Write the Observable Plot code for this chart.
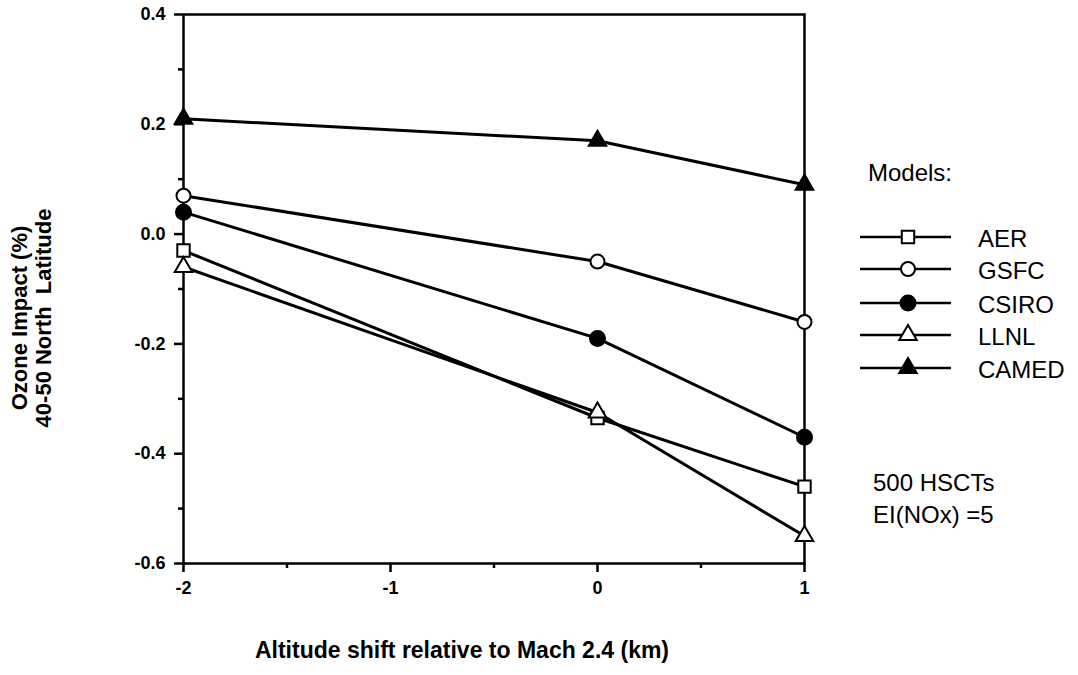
<!DOCTYPE html>
<html>
<head>
<meta charset="utf-8">
<script src="https://cdn.jsdelivr.net/npm/d3@7"></script>
<script src="https://cdn.jsdelivr.net/npm/@observablehq/plot@0.6"></script>
<style>
  html, body { margin: 0; padding: 0; background: #fff; }
  #chart svg { display: block; }
</style>
</head>
<body>
<div id="chart"></div>
<script>
// ---- data ----
const xs = [-2, 0, 1];
const models = ["AER", "GSFC", "CSIRO", "LLNL", "CAMED"];
const aer   = [-0.03, -0.335, -0.46];
const gsfc  = [0.07, -0.05, -0.16];
const csiro = [0.04, -0.19, -0.37];
const llnl  = [-0.06, -0.325, -0.55];
const camed = [0.21, 0.17, 0.09];
const yTicks = [0.4, 0.2, 0.0, -0.2, -0.4, -0.6];
const yMinorTicks = [0.3, 0.1, -0.1, -0.3, -0.5];
const xTicks = [-2, -1, 0, 1];
const xMinorTicks = [-1.5, -0.5, 0.5];
const xTitle = "Altitude shift relative to Mach 2.4 (km)";
const yTitle = ["Ozone Impact (%)", "40-50 North  Latitude"];
const legendTitle = "Models:";
const noteLines = ["500 HSCTs", "EI(NOx) =5"];

const series = [aer, gsfc, csiro, llnl, camed];
const rows = models.flatMap((m, i) => series[i].map((v, j) => ({model: m, x: xs[j], y: v})));

// ---- styles ----
const style = {
  AER:   {symbol: "square",   fill: "white", r: 7},
  GSFC:  {symbol: "circle",   fill: "white", r: 7},
  CSIRO: {symbol: "circle",   fill: "black", r: 7.5},
  LLNL:  {symbol: "triangle", fill: "white", r: 6.5},
  CAMED: {symbol: "triangle", fill: "black", r: 6.5}
};
const FONT = "'Liberation Sans', Arial, Helvetica, sans-serif";

const W = 1078, H = 675;
const chart = Plot.plot({
  width: W,
  height: H,
  marginLeft: 183,
  marginRight: W - 804,
  marginTop: 14,
  marginBottom: H - 563,
  style: {fontFamily: FONT, fontSize: "18px", background: "white", color: "black"},
  x: {domain: [-2, 1]},
  y: {domain: [-0.6, 0.4]},
  marks: [
    Plot.axisY({ticks: yTicks, tickSize: 9, tickPadding: 9, tickFormat: d => d.toFixed(1),
      fontSize: 18, fontWeight: "bold", strokeWidth: 2.5, label: null}),
    Plot.axisY({ticks: yMinorTicks, tickSize: 5, tickFormat: () => "", strokeWidth: 2.5, label: null}),
    Plot.axisX({ticks: xTicks, tickSize: 9, tickPadding: 9, tickFormat: d => String(d),
      fontSize: 18, fontWeight: "bold", strokeWidth: 2.5, label: null}),
    Plot.axisX({ticks: xMinorTicks, tickSize: 5, tickFormat: () => "", strokeWidth: 2.5, label: null}),
    Plot.frame({stroke: "black", strokeWidth: 2.5}),
    Plot.line(rows, {x: "x", y: "y", z: "model", stroke: "black", strokeWidth: 3}),
    ...models.map(m => Plot.dot(rows.filter(d => d.model === m), {
      x: "x", y: "y", symbol: style[m].symbol, r: style[m].r,
      fill: style[m].fill, stroke: "black", strokeWidth: 2
    }))
  ]
});
document.getElementById("chart").appendChild(chart);

// enlarge Plot's own tick labels (inline style wins over Plot's defaults)
const svg = d3.select(chart);
svg.selectAll("text")
  .style("font-size", "18px")
  .style("font-weight", "bold")
  .style("font-family", FONT);

// ---- titles, legend and note (annotation layer) ----
svg.append("text")
  .attr("x", 462).attr("y", 658)
  .attr("text-anchor", "middle")
  .style("font-family", FONT).style("font-size", "23px").style("font-weight", "bold")
  .text(xTitle);

const yt = svg.append("text")
  .attr("transform", "translate(34,318) rotate(-90)")
  .attr("text-anchor", "middle")
  .style("font-family", FONT).style("font-size", "22px").style("font-weight", "bold")
  .style("white-space", "pre");
yTitle.forEach((t, i) => yt.append("tspan").attr("x", 0).attr("dy", i === 0 ? "-0.3em" : "1.05em").text(t));

svg.append("text")
  .attr("x", 868).attr("y", 173).attr("dy", "0.35em")
  .attr("text-anchor", "start")
  .style("font-family", FONT).style("font-size", "24px").style("font-weight", "normal")
  .text(legendTitle);

const legendY = [237, 269, 303, 335, 368];
const symMap = {square: d3.symbolSquare, circle: d3.symbolCircle, triangle: d3.symbolTriangle};
models.forEach((m, i) => {
  const g = svg.append("g").attr("transform", `translate(0,${legendY[i]})`);
  g.append("line").attr("x1", 860).attr("x2", 951).attr("y1", 0).attr("y2", 0)
    .attr("stroke", "black").attr("stroke-width", 2.5);
  const s = style[m];
  g.append("path")
    .attr("transform", "translate(908,0)")
    .attr("d", d3.symbol(symMap[s.symbol], Math.PI * s.r * s.r)())
    .attr("fill", s.fill).attr("stroke", "black").attr("stroke-width", 2);
  g.append("text").attr("x", 978).attr("y", 2).attr("dy", "0.35em")
    .attr("text-anchor", "start")
    .style("font-family", FONT).style("font-size", "24px").style("font-weight", "normal")
    .text(m);
});

noteLines.forEach((t, i) => {
  svg.append("text").attr("x", 873).attr("y", 483 + i * 32).attr("dy", "0.35em")
    .attr("text-anchor", "start")
    .style("font-family", FONT).style("font-size", "24px").style("font-weight", "normal")
    .text(t);
});
</script>
</body>
</html>
